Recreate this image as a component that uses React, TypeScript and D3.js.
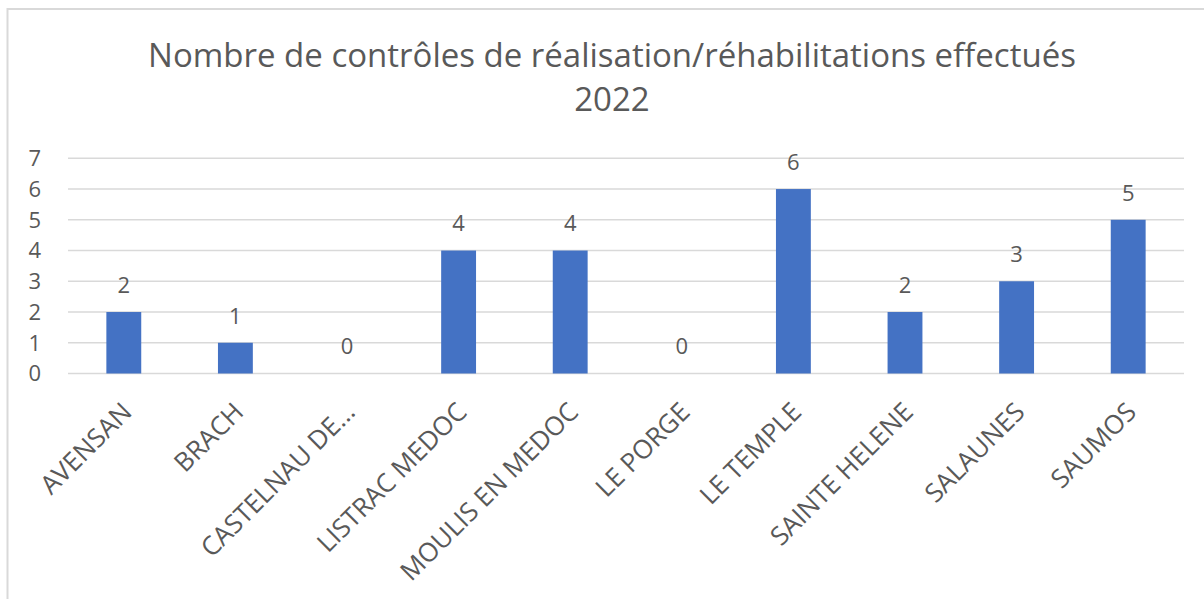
import React from "react";
import * as d3 from "d3";

const categories = ["AVENSAN", "BRACH", "CASTELNAU DE...", "LISTRAC MEDOC", "MOULIS EN MEDOC", "LE PORGE", "LE TEMPLE", "SAINTE HELENE", "SALAUNES", "SAUMOS"];
const values = [2, 1, 0, 4, 4, 0, 6, 2, 3, 5];
const yTicks = [0, 1, 2, 3, 4, 5, 6, 7];
const titleLines = ["Nombre de contrôles de réalisation/réhabilitations effectués", "2022"];

const W = 1204, H = 599;
const left = 68, right = 1184, top = 158.3, bottom = 373.5;
const FONT = "'Open Sans', 'Liberation Sans', sans-serif";
const TXT = "#595959";

export default function App() {
  const x = d3.scaleBand<string>().domain(categories).range([left, right]).paddingInner(0.6875).paddingOuter(0.34375);
  const y = d3.scaleLinear().domain([0, 7]).range([bottom, top]);
  return (
    <svg width={W} height={H} style={{ position: "absolute", left: 0, top: 0, background: "#fff" }} fontFamily={FONT}>
      <rect x={7.5} y={9} width={W + 10} height={H + 10} fill="#fff" stroke="#d9d9d9" strokeWidth={2} />
      {titleLines.map((t, i) => (
        <text key={i} x={612} y={67 + i * 44} textAnchor="middle" fontSize={33} fill={TXT}>{t}</text>
      ))}
      {yTicks.map((t) => (
        <g key={t}>
          <line x1={left} x2={right} y1={y(t)} y2={y(t)} stroke="#d9d9d9" strokeWidth={1.5} />
          <text x={41} y={y(t)} dy="0.36em" textAnchor="end" fontSize={22} fill={TXT}>{t}</text>
        </g>
      ))}
      {categories.map((c, i) => {
        const bx = x(c)!;
        const cx = bx + x.bandwidth() / 2;
        return (
          <g key={c}>
            {values[i] > 0 && (
              <rect x={bx} y={y(values[i])} width={x.bandwidth()} height={y(0) - y(values[i])} fill="#4472c4" />
            )}
            <text x={cx} y={y(values[i]) - 27} dy="0.36em" textAnchor="middle" fontSize={22} fill={TXT}>{values[i]}</text>
            <text transform={`translate(${cx + 3},${407}) rotate(-45)`} textAnchor="end" dy="0.36em" fontSize={26} fill={TXT}>{c}</text>
          </g>
        );
      })}
    </svg>
  );
}
